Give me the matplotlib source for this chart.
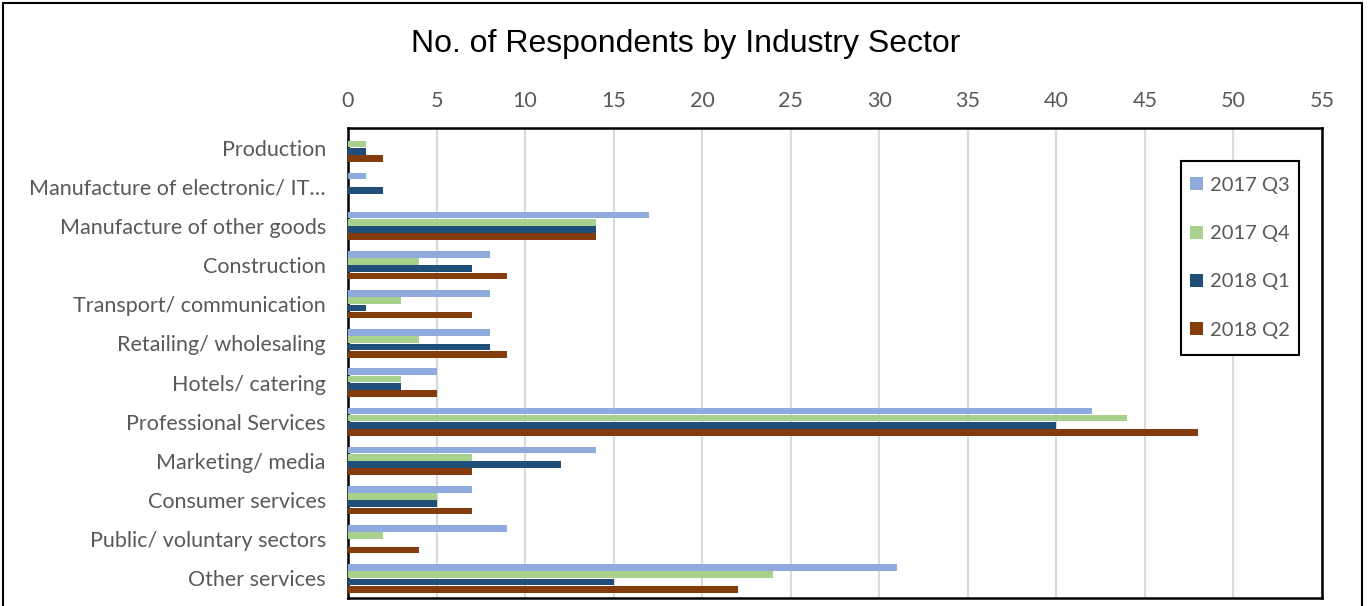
import matplotlib
matplotlib.use("Agg")
import matplotlib.pyplot as plt
import numpy as np
from matplotlib.patches import Rectangle

categories = ["Production", "Manufacture of electronic/ IT\u2026", "Manufacture of other goods",
              "Construction", "Transport/ communication", "Retailing/ wholesaling",
              "Hotels/ catering", "Professional Services", "Marketing/ media",
              "Consumer services", "Public/ voluntary sectors", "Other services"]
series_names = ["2017 Q3", "2017 Q4", "2018 Q1", "2018 Q2"]
q3_2017 = [0, 1, 17, 8, 8, 8, 5, 42, 14, 7, 9, 31]
q4_2017 = [1, 0, 14, 4, 3, 4, 3, 44, 7, 5, 2, 24]
q1_2018 = [1, 2, 14, 7, 1, 8, 3, 40, 12, 5, 0, 15]
q2_2018 = [2, 0, 14, 9, 7, 9, 5, 48, 7, 7, 4, 22]
x_ticks = list(range(0, 56, 5))

colors = ["#8FAADC", "#A9D18E", "#1F4E79", "#843C0C"]
txt = "#595959"
lab_font = ["Lato", "DejaVu Sans"]
W, H = 1368, 606

fig = plt.figure(figsize=(W/100, H/100), dpi=100)
ax = fig.add_axes([348/W, 1-598/H, (1322-348)/W, (598-128)/H])

n = len(categories)
y = np.arange(n)
h = 0.185
offs = [-1.5*h, -0.5*h, 0.5*h, 1.5*h]
for vals, c, off, name in zip([q3_2017, q4_2017, q1_2018, q2_2018], colors, offs, series_names):
    ax.barh(y + off, vals, height=h*0.92, color=c, label=name, zorder=3)

ax.set_ylim(n - 0.5, -0.5)
ax.set_xlim(0, 55)
ax.set_xticks(x_ticks)
ax.xaxis.tick_top()
ax.tick_params(axis="x", length=0, pad=12, labelsize=15.5, labelcolor=txt)
ax.set_yticks(y)
ax.set_yticklabels(categories)
ax.tick_params(axis="y", length=0, pad=16, labelsize=15.5, labelcolor=txt)
for lab in ax.get_xticklabels() + ax.get_yticklabels():
    lab.set_family(lab_font)
ax.grid(axis="x", color="#D9D9D9", linewidth=1.5, zorder=0)
ax.set_axisbelow(True)
for s in ax.spines.values():
    s.set_color("black")
    s.set_linewidth(1.8)

leg = ax.legend(loc="upper left", bbox_to_anchor=(1189.5/W, 1-177/H), bbox_transform=fig.transFigure,
                borderaxespad=0, borderpad=0, frameon=False, handlelength=0.68,
                handleheight=0.62, handletextpad=0.32, labelspacing=1.55,
                prop={"family": lab_font, "size": 14.5})
for t in leg.get_texts():
    t.set_color(txt)
leg.set_zorder(10)
ax.add_patch(Rectangle((1181/W, 1-355/H), (1299-1181)/W, (355-161)/H, transform=fig.transFigure,
                       fill=True, facecolor="white", edgecolor="black", linewidth=1.5,
                       zorder=5, clip_on=False))

fig.text(686/W, 1-44/H, "No. of Respondents by Industry Sector", ha="center", va="center",
         fontsize=23, family=["Liberation Sans", "DejaVu Sans"], color="black")

fig.patches.append(Rectangle((3/W, -0.05), (1362-3)/W, 1.05-3/H, transform=fig.transFigure,
                             fill=False, edgecolor="black", linewidth=1.5))

fig.savefig("out.png", dpi=100)
